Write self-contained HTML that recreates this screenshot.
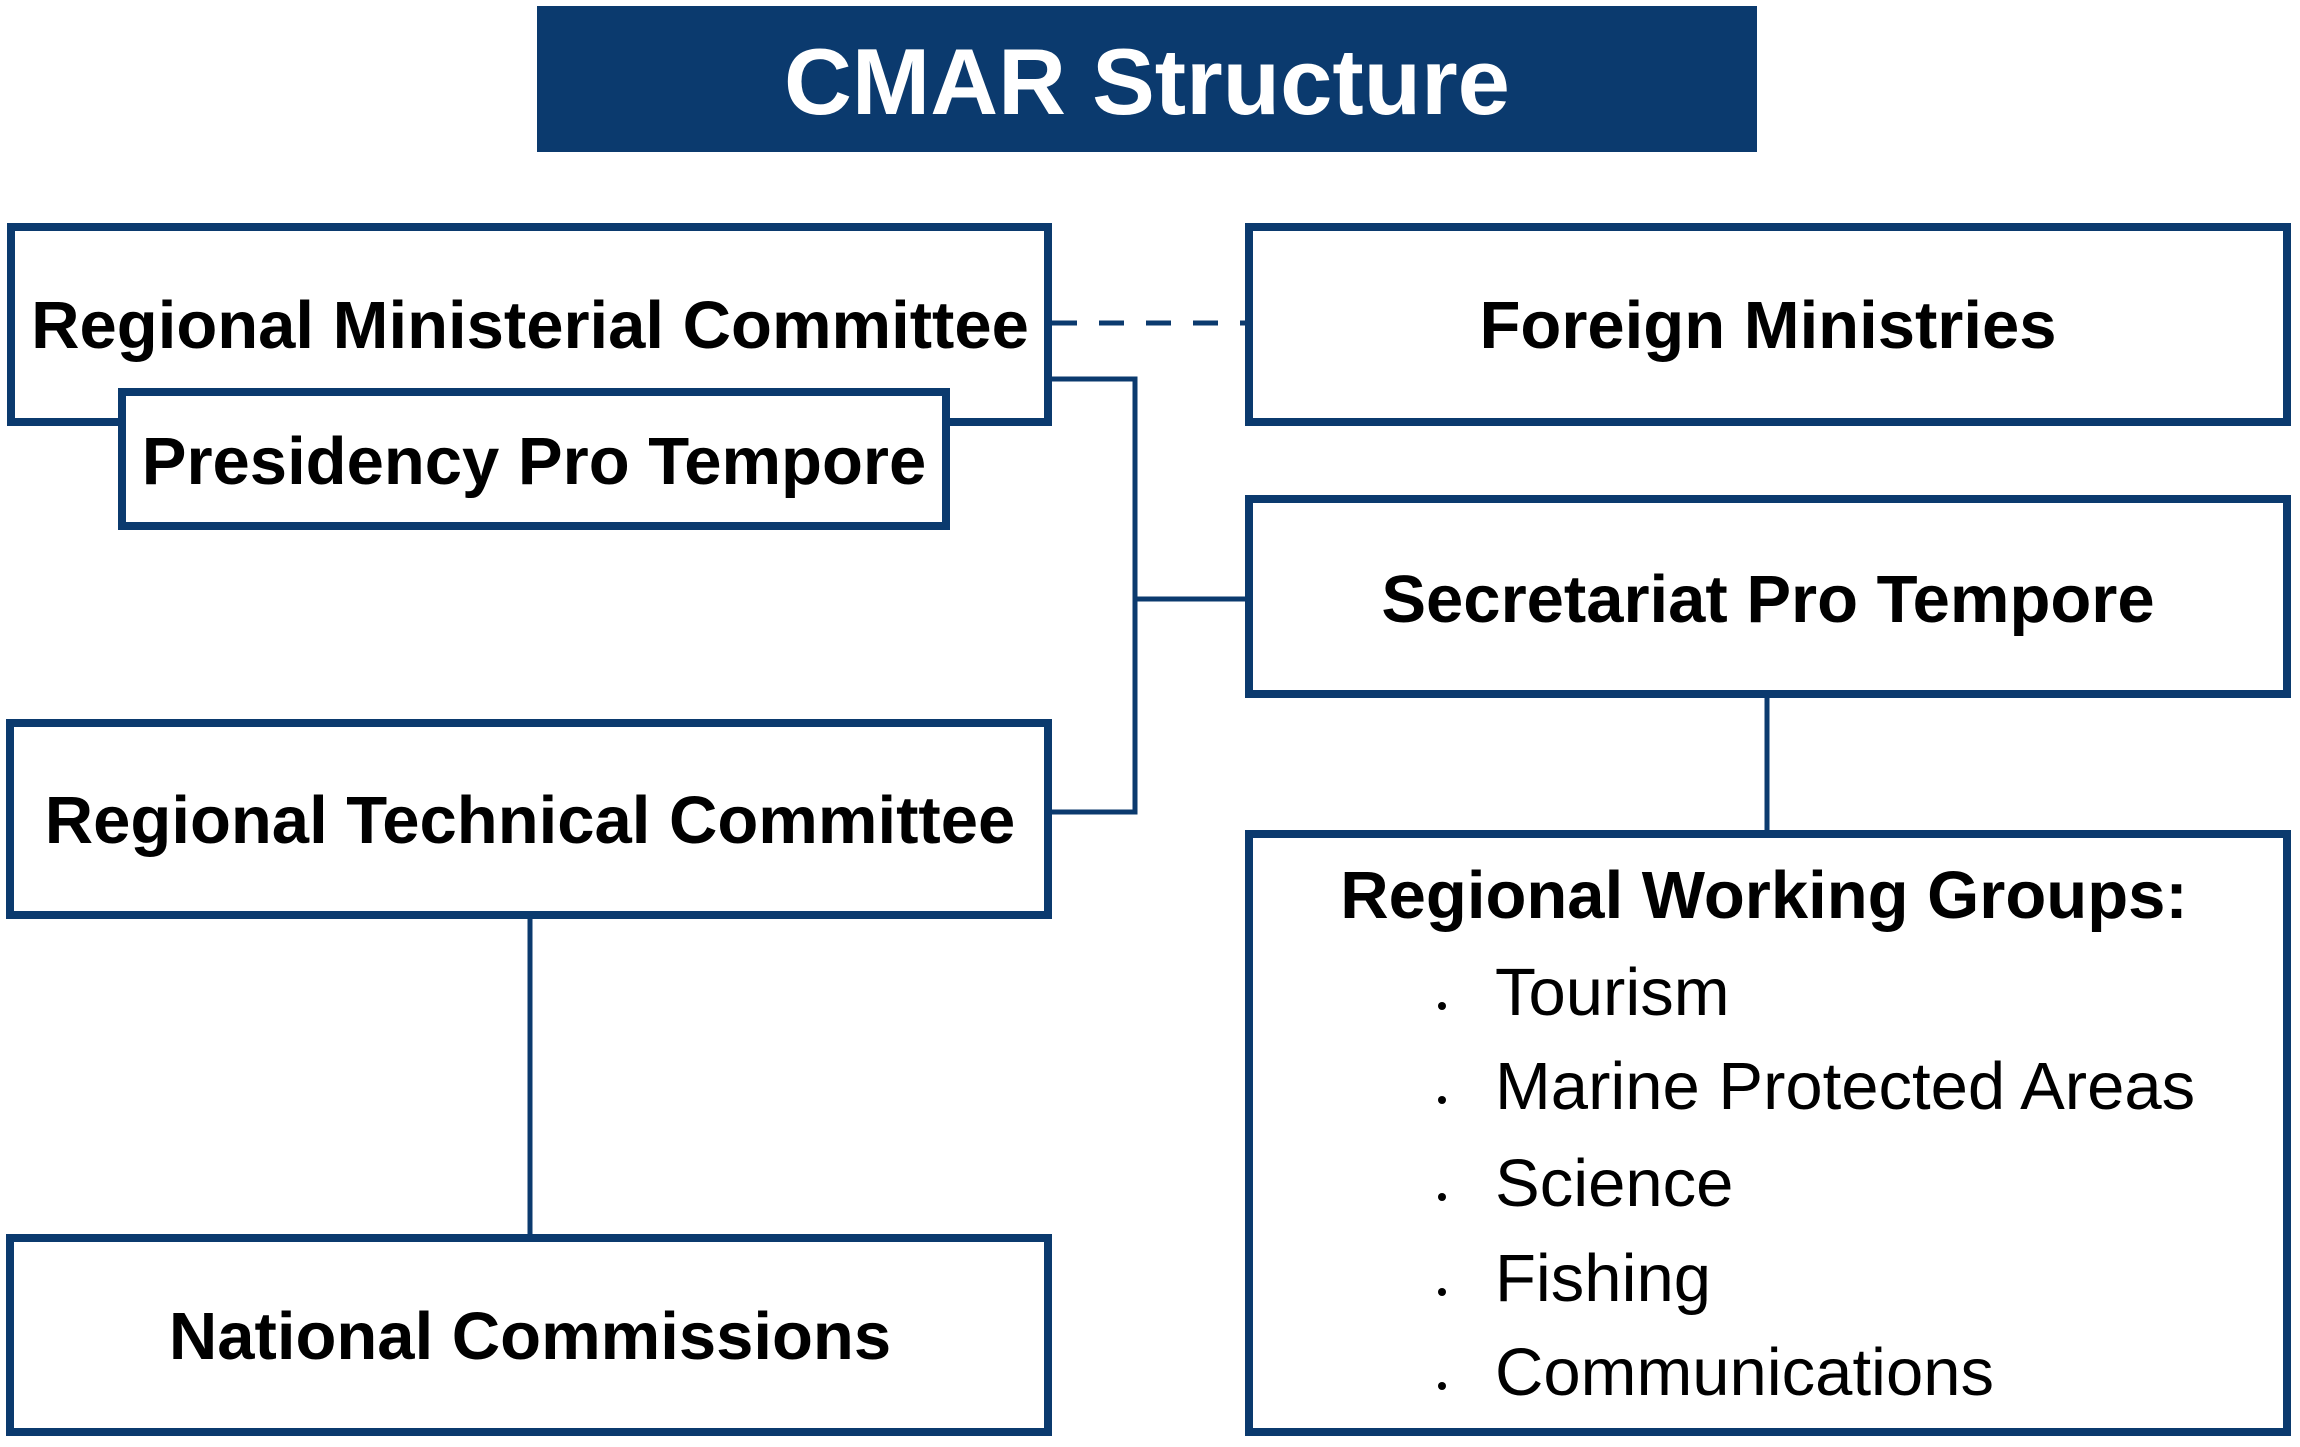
<!DOCTYPE html>
<html><head><meta charset="utf-8"><style>
html,body{margin:0;padding:0;background:#fff;}
svg{display:block;}
text{font-family:"Liberation Sans",Arial,sans-serif;}
</style></head><body>
<svg width="2300" height="1447" viewBox="0 0 2300 1447" xmlns="http://www.w3.org/2000/svg">
<rect x="0" y="0" width="2300" height="1447" fill="#fff"/>
<rect x="537" y="6" width="1220" height="146" fill="#0b3a6e"/>
<text x="1147" y="114" text-anchor="middle" font-size="94" font-weight="bold" fill="#fff">CMAR Structure</text>
<g fill="none" stroke="#0b3a6e">
<line x1="1052" y1="323" x2="1245" y2="323" stroke-width="5" stroke-dasharray="25 22"/>
<polyline points="1052,379 1135,379 1135,812 1052,812" stroke-width="5"/>
<line x1="1135" y1="599" x2="1245" y2="599" stroke-width="5"/>
<line x1="530" y1="919" x2="530" y2="1234" stroke-width="5"/>
<line x1="1767" y1="698" x2="1767" y2="830" stroke-width="5"/>
<g stroke-width="8" fill="#fff">
<rect x="11" y="227" width="1037" height="195"/>
<rect x="1249" y="227" width="1038" height="195"/>
<rect x="1249" y="499" width="1038" height="195"/>
<rect x="10" y="723" width="1038" height="192"/>
<rect x="10" y="1238" width="1038" height="194"/>
<rect x="1249" y="834" width="1038" height="598"/>
<rect x="122" y="392" width="824" height="134"/>
</g>
</g>
<g font-size="67" font-weight="bold" fill="#000" text-anchor="middle">
<text x="530" y="348">Regional Ministerial Committee</text>
<text x="534" y="484">Presidency Pro Tempore</text>
<text x="1768" y="348">Foreign Ministries</text>
<text x="1768" y="622">Secretariat Pro Tempore</text>
<text x="530" y="843">Regional Technical Committee</text>
<text x="530" y="1359">National Commissions</text>
<text x="1764" y="918">Regional Working Groups:</text>
</g>
<g font-size="67" fill="#000">
<text x="1495" y="1015">Tourism</text>
<text x="1495" y="1109">Marine Protected Areas</text>
<text x="1495" y="1206">Science</text>
<text x="1495" y="1301">Fishing</text>
<text x="1495" y="1395">Communications</text>
</g>
<g fill="#000">
<circle cx="1442" cy="1006" r="4"/>
<circle cx="1442" cy="1100" r="4"/>
<circle cx="1442" cy="1197" r="4"/>
<circle cx="1442" cy="1292" r="4"/>
<circle cx="1442" cy="1386" r="4"/>
</g>
</svg>
</body></html>
